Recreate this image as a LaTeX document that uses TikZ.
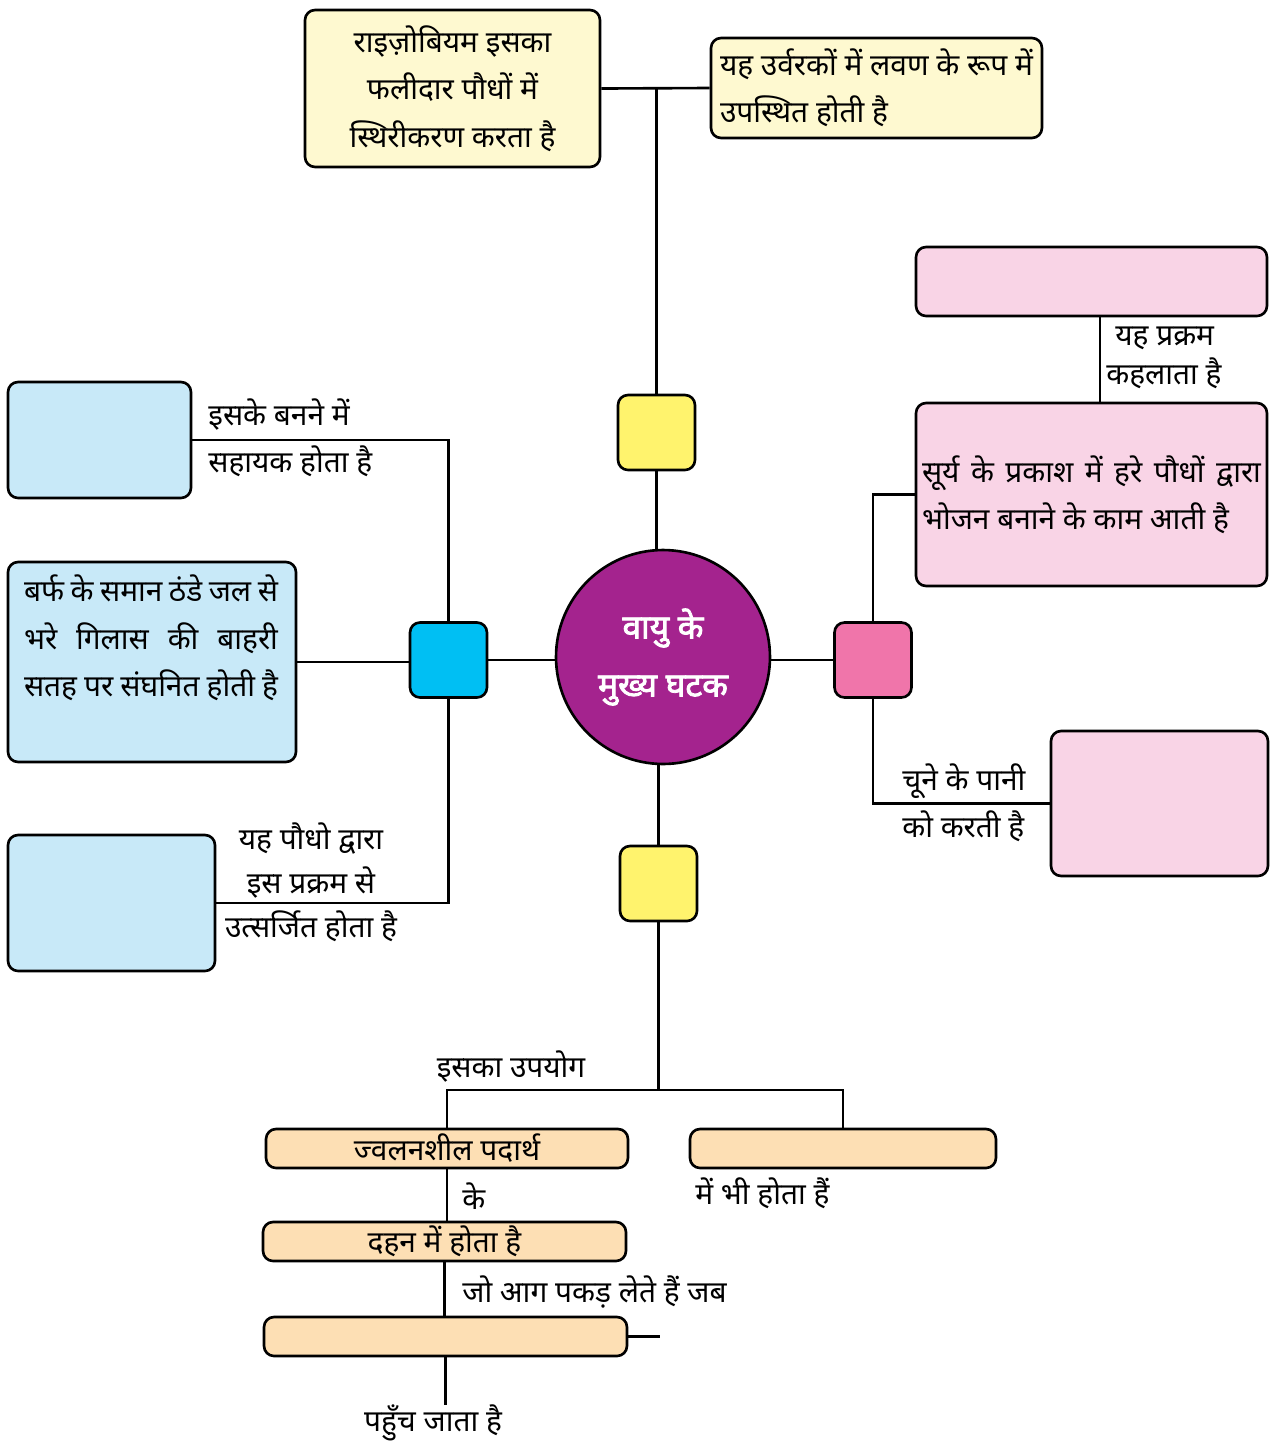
\documentclass[tikz,border=0pt]{standalone}
\usepackage{fontspec}
\setmainfont{Noto Sans}[Script=Devanagari]
\newfontfamily\hubfont{Noto Sans}[Script=Devanagari,FakeBold=2.5]
\definecolor{paleyellow}{HTML}{FEF9D0}
\definecolor{hubyellow}{HTML}{FFF36D}
\definecolor{hubcyan}{HTML}{00BFF3}
\definecolor{paleblue}{HTML}{C8E9F8}
\definecolor{hubpurple}{HTML}{A4238E}
\definecolor{hubpink}{HTML}{F075AA}
\definecolor{palepink}{HTML}{F9D4E6}
\definecolor{paleorange}{HTML}{FDDFB4}
\begin{document}
\begin{tikzpicture}[x=0.02cm,y=-0.02cm,
  every node/.style={font=\fontsize{17}{27}\selectfont},
  box/.style={draw,line width=1.5pt,rounded corners=0.2cm,inner sep=0pt},
  hubsq/.style={box,minimum width=1.54cm,minimum height=1.5cm},
  tag/.style={inner sep=0pt},
  link/.style={line width=1.5pt}]
  \useasboundingbox (0,0) rectangle (1272,1445);
  \node[circle,draw,line width=1.5pt,fill=hubpurple,minimum size=4.28cm,
    text=white,align=center,font=\fontsize{19}{33}\hubfont]
    (hub) at (663,657) {वायु के\\मुख्य घटक};
  \node[hubsq,fill=hubyellow] (topSq) at (656.5,432.5) {};
  \node[hubsq,fill=hubyellow] (botSq) at (658.5,883.5) {};
  \node[hubsq,fill=hubcyan] (cyanSq) at (448.5,660) {};
  \node[hubsq,fill=hubpink] (pinkSq) at (873,660) {};
  \node[box,fill=paleyellow,minimum width=5.9cm,minimum height=3.14cm,align=center]
    (rhizo) at (452.5,88.5) {राइज़ोबियम इसका\\फलीदार पौधों में\\स्थिरीकरण करता है};
  \node[box,fill=paleyellow,minimum width=6.62cm,minimum height=2cm,align=left]
    (fert) at (876.5,88) {यह उर्वरकों में लवण के रूप में\\उपस्थित होती है};
  \node[box,fill=palepink,minimum width=7.02cm,minimum height=1.38cm]
    (procName) at (1091.5,281.5) {};
  \node[box,fill=palepink,minimum width=7.02cm,minimum height=3.66cm,
    inner xsep=0.12cm,text width=6.78cm,align=justify]
    (photo) at (1091.5,494.5) {सूर्य के प्रकाश में हरे पौधों द्वारा\linebreak भोजन बनाने के काम आती है};
  \node[box,fill=palepink,minimum width=4.34cm,minimum height=2.9cm]
    (limeBox) at (1159.5,803.5) {};
  \node[box,fill=paleblue,minimum width=3.66cm,minimum height=2.32cm]
    (cloud) at (99.5,440) {};
  \node[box,fill=paleblue,minimum width=5.76cm,minimum height=4cm]
    (ice) at (152,662) {};
  \node[tag,text width=5.08cm,align=justify]
    (iceText) at (151,638) {बर्फ के समान ठंडे जल से\linebreak भरे गिलास की बाहरी\linebreak सतह पर संघनित होती है};
  \node[box,fill=paleblue,minimum width=4.14cm,minimum height=2.72cm]
    (gasBox) at (111.5,903) {};
  \node[box,fill=paleorange,minimum width=7.24cm,minimum height=0.78cm]
    (fuel) at (447,1148.5) {ज्वलनशील पदार्थ};
  \node[box,fill=paleorange,minimum width=6.12cm,minimum height=0.78cm]
    (alsoBox) at (843,1148.5) {};
  \node[box,fill=paleorange,minimum width=7.26cm,minimum height=0.78cm]
    (burn) at (444.5,1241.5) {दहन में होता है};
  \node[box,fill=paleorange,minimum width=7.26cm,minimum height=0.78cm]
    (ignite) at (445.5,1336.5) {};
  \node[tag,anchor=west,align=left,font=\fontsize{17}{22}\selectfont]
    (procLabel) at (1106,357.5) {\hspace*{0.18cm}यह प्रक्रम\\कहलाता है};
  \node[tag,anchor=west,align=left] (limeLabel) at (902,803) {चूने के पानी\\को करती है};
  \node[tag,anchor=west,align=left] (cloudLabel) at (208,438) {इसके बनने में\\सहायक होता है};
  \node[tag,align=center,font=\fontsize{17}{25}\selectfont]
    (gasLabel) at (311,882) {यह पौधो द्वारा\\इस प्रक्रम से\\उत्सर्जित होता है};
  \node[tag] (useLabel) at (511,1067) {इसका उपयोग};
  \node[tag,anchor=west] (keLabel) at (462,1196) {के};
  \node[tag,anchor=west] (alsoLabel) at (695,1193) {में भी होता हैं};
  \node[tag,anchor=west] (catchLabel) at (462,1292) {जो आग पकड़ लेते हैं जब};
  \node[tag] (reachLabel) at (433,1423) {पहुँच जाता है};
  \coordinate (split) at (658.5,1090);
  \coordinate (stub) at (660,1336.5);
  \coordinate (reachEnd) at (445.5,1405);
  \draw[link]
    (rhizo.east)
    --
    (fert.west);
  \draw[link]
    (topSq.north)
    --
    (topSq.north |- rhizo.east);
  \draw[link]
    (topSq.south)
    --
    (topSq.south |- hub.north);
  \draw[link]
    (cyanSq.east)
    --
    (cyanSq.east -| hub.west);
  \draw[link]
    (ice.east)
    --
    (ice.east -| cyanSq.west);
  \draw[link]
    (cyanSq.north)
    |-
    (cloud.east);
  \draw[link]
    (cyanSq.south)
    |-
    (gasBox.east);
  \draw[link]
    (pinkSq.west -| hub.east)
    --
    (pinkSq.west);
  \draw[link]
    (pinkSq.north)
    |-
    (photo.west);
  \draw[link]
    (pinkSq.south)
    |-
    (limeBox.west);
  \draw[link]
    ([xshift=0.17cm]procName.south)
    --
    ([xshift=0.17cm]photo.north);
  \draw[link]
    (botSq.north)
    --
    (botSq.north |- hub.south);
  \draw[link]
    (botSq.south)
    --
    (split);
  \draw[link]
    (fuel.north)
    |-
    (split)
    -|
    (alsoBox.north);
  \draw[link]
    (fuel.south)
    --
    (fuel.south |- burn.north);
  \draw[link]
    (burn.south)
    --
    (burn.south |- ignite.north);
  \draw[link]
    (ignite.east)
    --
    (stub);
  \draw[link]
    (ignite.south)
    --
    (reachEnd);
\end{tikzpicture}
\end{document}
